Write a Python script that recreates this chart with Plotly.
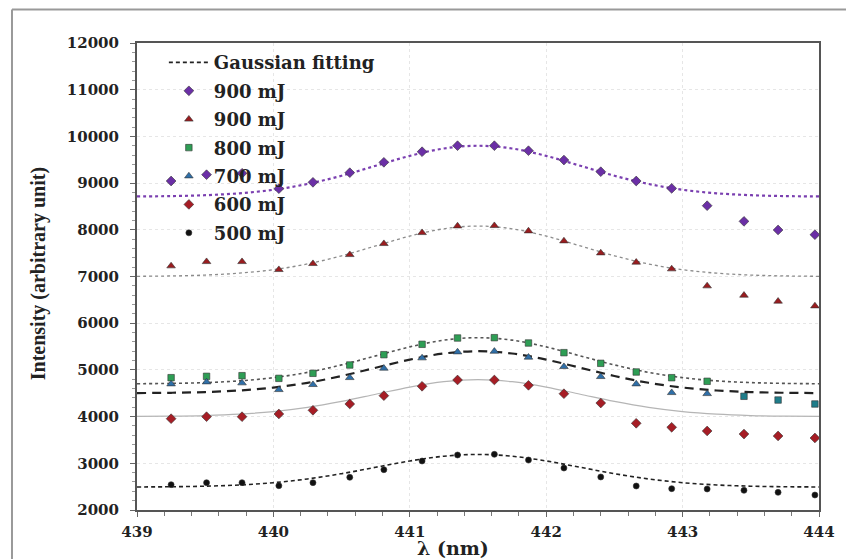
import plotly.graph_objects as go

# Wavelength (nm) of the measured points
wl = [439.25, 439.51, 439.77, 440.04, 440.29, 440.56, 440.81, 441.09, 441.35, 441.62,
      441.87, 442.13, 442.40, 442.66, 442.92, 443.18, 443.45, 443.70, 443.97]

i900a = [9045, 9180, 9210, 8880, 9017, 9223, 9445, 9672, 9801, 9801,
         9694, 9494, 9244, 9045, 8887, 8516, 8181, 7996, 7895]
i900b = [7225, 7317, 7317, 7146, 7275, 7467, 7703, 7938, 8081, 8088,
         7974, 7760, 7503, 7304, 7161, 6797, 6597, 6469, 6368]
i800 = [4833, 4862, 4876, 4819, 4927, 5105, 5326, 5548, 5683, 5690,
        5576, 5369, 5141, 4955, 4833, 4756, 4435, 4355, 4270]
i700 = [4698, 4741, 4720, 4576, 4684, 4833, 5034, 5255, 5383, 5397,
        5270, 5069, 4855, 4698, 4512, 4490]
i600 = [3955, 3998, 3998, 4056, 4135, 4270, 4448, 4649, 4784, 4784,
        4670, 4490, 4291, 3857, 3771, 3692, 3627, 3585, 3542]
i500 = [2542, 2585, 2585, 2520, 2585, 2700, 2863, 3049, 3178, 3192,
        3071, 2899, 2707, 2514, 2457, 2450, 2421, 2378, 2321]

# Gaussian fit curves
wl_fit = [439.0, 439.25, 439.5, 439.75, 440.0, 440.25, 440.5, 440.75, 441.0, 441.25, 441.5,
          441.75, 442.0, 442.25, 442.5, 442.75, 443.0, 443.25, 443.5, 443.75, 444.0]
fit900a = [8714, 8722, 8741, 8782, 8857, 8982, 9158, 9371, 9583, 9741, 9800,
           9741, 9583, 9371, 9158, 8982, 8857, 8782, 8741, 8722, 8714]
fit900b = [7004, 7012, 7031, 7071, 7146, 7269, 7444, 7655, 7865, 8022, 8080,
           8022, 7865, 7655, 7444, 7269, 7146, 7071, 7031, 7012, 7004]
fit800 = [4704, 4711, 4728, 4765, 4834, 4947, 5107, 5300, 5493, 5637, 5690,
          5637, 5493, 5300, 5107, 4947, 4834, 4765, 4728, 4711, 4704]
fit700 = [4504, 4510, 4526, 4559, 4622, 4724, 4870, 5046, 5221, 5351, 5400,
          5351, 5221, 5046, 4870, 4724, 4622, 4559, 4526, 4510, 4504]
fit600 = [4003, 4009, 4023, 4052, 4107, 4197, 4325, 4479, 4633, 4747, 4790,
          4747, 4633, 4479, 4325, 4197, 4107, 4052, 4023, 4009, 4003]
fit500 = [2493, 2498, 2510, 2536, 2585, 2665, 2778, 2915, 3050, 3152, 3190,
          3152, 3050, 2915, 2778, 2665, 2585, 2536, 2510, 2498, 2493]

xticks = [439, 440, 441, 442, 443, 444]
yticks = [2000, 3000, 4000, 5000, 6000, 7000, 8000, 9000, 10000, 11000, 12000]

WIDE = "DejaVu Serif"
TIMES = "Liberation Serif"
TXT = "#222222"
fig = go.Figure()

def fit_trace(y, color, width, dash, name="Gaussian fitting", show=False, rank=100):
    fig.add_trace(go.Scatter(x=wl_fit, y=y, mode="lines", name="<b>" + name + "</b>",
                             line=dict(color=color, width=width, dash=dash, shape="spline"),
                             showlegend=show, legendrank=rank, legendgroup="g%d" % rank,
                             hoverinfo="skip"))

fit_trace(fit900a, "#7a3fb0", 2.2, "dot")
fit_trace(fit900b, "#8c8c8c", 1.3, "dot")
fit_trace(fit800, "#555555", 1.6, "dot")
fit_trace(fit700, "#222222", 2.2, "9px,6px")
fit_trace(fit600, "#b5b5b5", 1.2, "solid")
fit_trace(fit500, "#222222", 1.6, "4px,3px", show=True, rank=1)

def pts(y, name, symbol, color, size, rank, colors=None):
    fig.add_trace(go.Scatter(x=wl[:len(y)], y=y, mode="markers", name="<b>" + name + "</b>",
                             legendrank=rank, legendgroup="g%d" % rank,
                             marker=dict(symbol=symbol, color=colors or color, size=size,
                                         line=dict(color="#333333", width=0.6))))

pts(i900a, "900 mJ", "diamond", "#6b2fa6", 7.5, 2)
pts(i900b, "900 mJ", "triangle-up", "#9a1c1f", 7.5, 3)
col800 = ["#2e9e55"] * 16 + ["#1f7d8a"] * 3
pts(i800, "800 mJ", "square", "#2e9e55", 6.5, 4, colors=col800)
pts(i700, "700 mJ", "triangle-up", "#2f6fa8", 7.5, 5)
pts(i600, "600 mJ", "diamond", "#a61d25", 7.5, 6)
pts(i500, "500 mJ", "circle", "#111111", 6, 7)

axis_common = dict(showline=True, linecolor="#555555", linewidth=2, mirror=True,
                   ticks="outside", ticklen=5, tickcolor="#666666",
                   showgrid=True, gridcolor="#e6e6e6", griddash="dot", gridwidth=1,
                   zeroline=False,
                   tickfont=dict(family=WIDE, size=15, color=TXT))

fig.update_xaxes(range=[439, 444], tickvals=xticks,
                 ticktext=["<b>%d</b>" % v for v in xticks], ticklabelstandoff=2,
                 minor=dict(dtick=0.2, ticks="outside", ticklen=4, tickcolor="#777777", showgrid=False),
                 **axis_common)
fig.update_yaxes(range=[2000, 12000], tickvals=yticks,
                 ticktext=["<b>%d</b>" % v for v in yticks], ticklabelstandoff=8,
                 minor=dict(dtick=200, ticks="outside", ticklen=3, tickcolor="#999999", showgrid=False),
                 **axis_common)

fig.add_annotation(text="<b>λ (nm)</b>", xref="paper", yref="paper", x=0.463, y=-0.082,
                   showarrow=False, font=dict(family=WIDE, size=19, color=TXT),
                   xanchor="center", yanchor="middle")
fig.add_annotation(text="<b>Intensity (arbitrary unit)</b>", xref="paper", yref="paper",
                   x=-0.145, y=0.505, textangle=-90, showarrow=False,
                   font=dict(family=TIMES, size=20, color=TXT),
                   xanchor="center", yanchor="middle")

# outer frame of the figure image
fig.add_shape(type="line", xref="paper", yref="paper", x0=-0.1833, x1=-0.1833, y0=1.072, y1=-0.12,
              line=dict(color="#999999", width=2))
fig.add_shape(type="line", xref="paper", yref="paper", x0=-0.1833, x1=1.06, y0=1.072, y1=1.072,
              line=dict(color="#999999", width=2))

# page body adds an 8px offset; compensate so the plot area lands at the same pixels
fig.update_layout(
    width=846, height=551,
    margin=dict(l=129, r=35, t=35, b=49),
    paper_bgcolor="white", plot_bgcolor="white",
    showlegend=True,
    legend=dict(x=0.0394, y=0.9974, xanchor="left", yanchor="top",
                bgcolor="rgba(0,0,0,0)", borderwidth=0, tracegroupgap=2,
                font=dict(family=WIDE, size=18, color=TXT), itemwidth=40),
    font=dict(family=WIDE),
)

fig.write_html("out.html")
